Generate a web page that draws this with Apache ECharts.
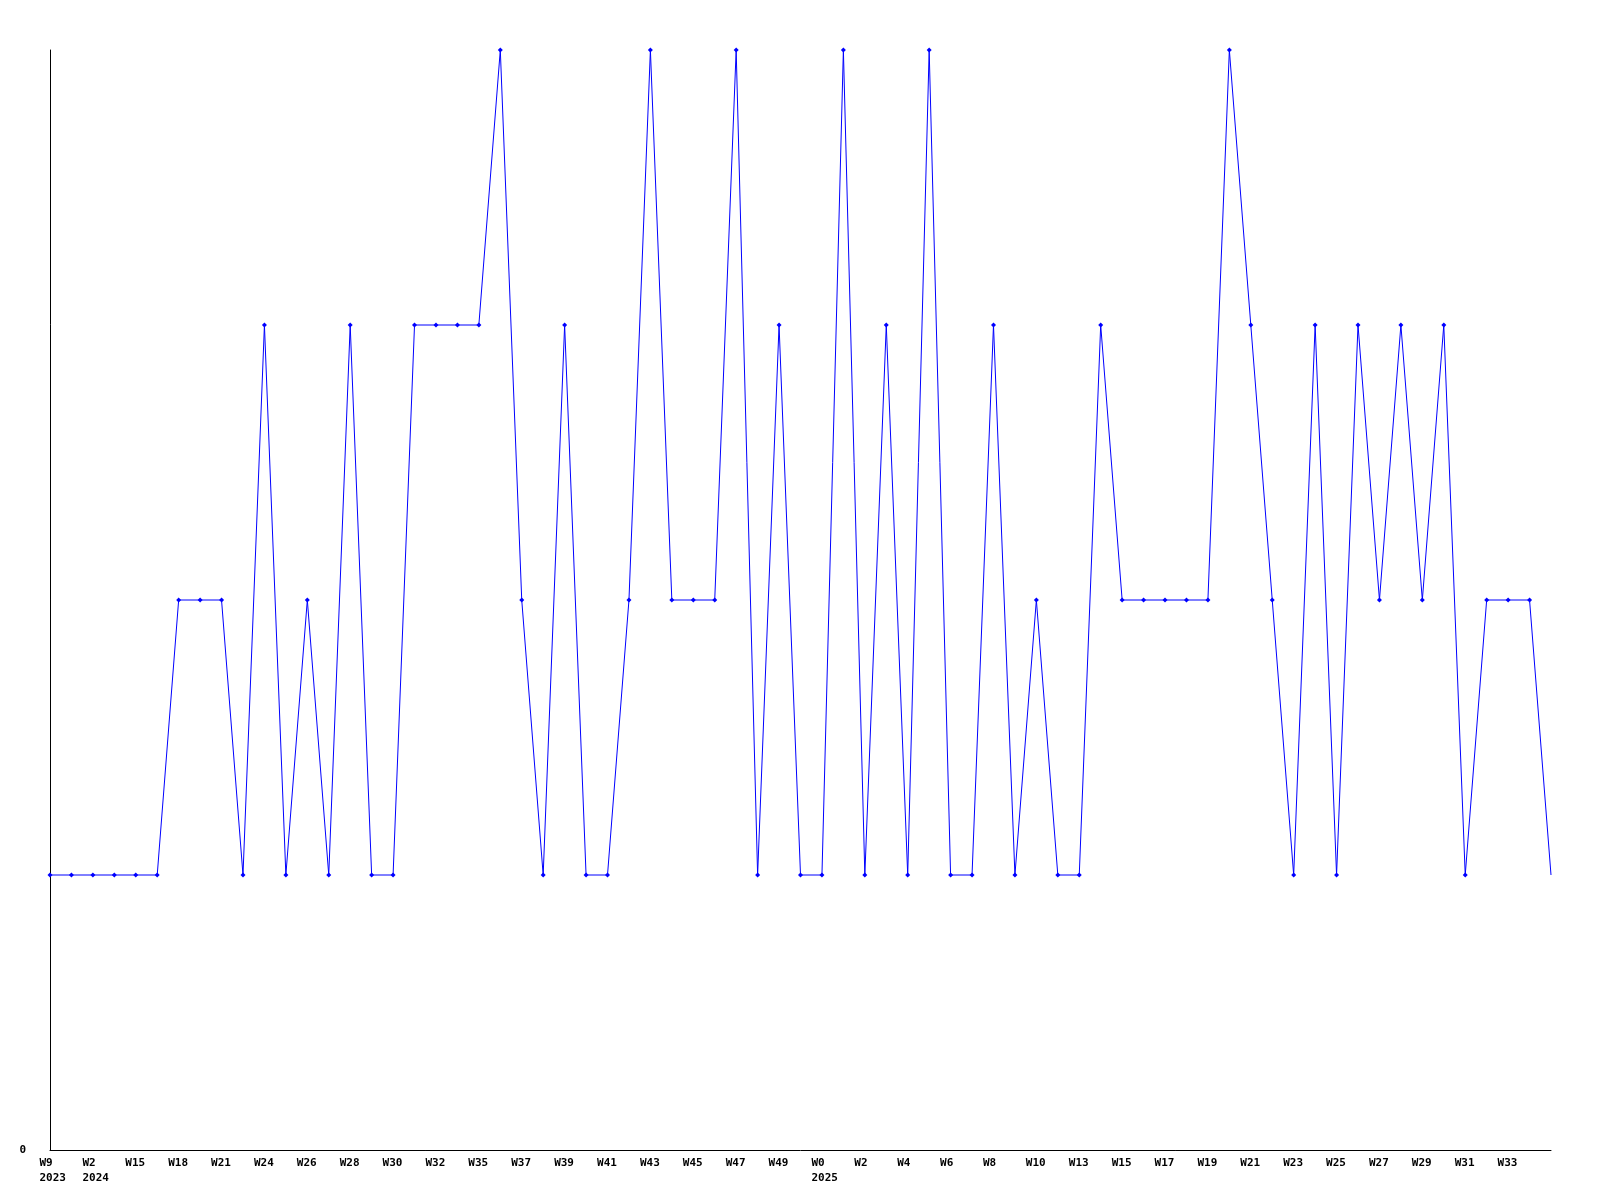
<!DOCTYPE html>
<html>
<head>
<meta charset="utf-8">
<script src="https://cdn.jsdelivr.net/npm/echarts@6/dist/echarts.min.js"></script>
<style>html,body{margin:0;padding:0;background:#fff;}#c{width:1600px;height:1200px;}</style>
</head>
<body>
<div id="c"></div>
<script>
const weeks = ["W9","W52","W2","W14","W15","W16","W18","W19","W21","W23",
  "W24","W25","W26","W27","W28","W29","W30","W31","W32","W34",
  "W35","W36","W37","W38","W39","W40","W41","W42","W43","W44",
  "W45","W46","W47","W48","W49","W51","W0","W1","W2","W3",
  "W4","W5","W6","W7","W8","W9","W10","W12","W13","W14",
  "W15","W16","W17","W18","W19","W20","W21","W22","W23","W24",
  "W25","W26","W27","W28","W29","W30","W31","W32","W33","W34","W35"];
const years = ["2023","","2024","","","","","","","",
  "","","","","","","","","","",
  "","","","","","","","","","",
  "","","","","","","2025","","","",
  "","","","","","","","","","",
  "","","","","","","","","","",
  "","","","","","","","","","",""];
const values = [1,1,1,1,1,1,2,2,2,1,
  3,1,2,1,3,1,1,3,3,3,
  3,4,2,1,3,1,1,2,4,2,
  2,2,4,1,3,1,1,4,1,3,
  1,4,1,1,3,1,2,1,1,3,
  2,2,2,2,2,4,3,2,1,3,
  1,3,2,3,2,3,1,2,2,2,1];
const yTicks = [0];

const categories = weeks.map((w, i) => years[i] ? w + "\n" + years[i] : w);
const seriesData = values.map((v, i) => i === values.length - 1 ? {value: v, symbol: 'none'} : v);

const chart = echarts.init(document.getElementById('c'), null, {renderer: 'canvas'});
const font = '"DejaVu Sans Mono", monospace';
chart.setOption({
  animation: false,
  backgroundColor: '#ffffff',
  grid: {left: 50, right: 49, top: 50, bottom: 50, containLabel: false},
  xAxis: {
    type: 'category',
    data: categories,
    boundaryGap: false,
    axisLine: {lineStyle: {color: '#000', width: 1}},
    axisTick: {show: false},
    splitLine: {show: false},
    axisLabel: {
      interval: 1,
      showMaxLabel: false,
      margin: 6,
      color: '#000',
      fontFamily: font,
      fontWeight: 'bold',
      fontSize: 11,
      lineHeight: 15,
      formatter: function (v, idx) {
        if (idx === weeks.length - 1) return '';
        return v.split('\n').map(s => '{a|' + s + '}').join('\n');
      },
      rich: {a: {width: 21, align: 'left', fontFamily: font, fontWeight: 'bold', fontSize: 11, lineHeight: 15, color: '#000'}}
    }
  },
  yAxis: {
    type: 'value',
    min: 0,
    max: 4,
    interval: 4,
    axisLine: {show: true, lineStyle: {color: '#000', width: 1}},
    axisTick: {show: false},
    splitLine: {show: false},
    axisLabel: {
      margin: 24,
      color: '#000',
      fontFamily: font,
      fontWeight: 'bold',
      fontSize: 11,
      formatter: function (v) { return yTicks.indexOf(v) >= 0 ? String(v) : ''; }
    }
  },
  series: [{
    type: 'line',
    data: seriesData,
    symbol: 'diamond',
    symbolSize: 5,
    showAllSymbol: true,
    lineStyle: {color: '#0000ff', width: 1},
    itemStyle: {color: '#0000ff'},
    emphasis: {disabled: true}
  }]
});
</script>
</body>
</html>
